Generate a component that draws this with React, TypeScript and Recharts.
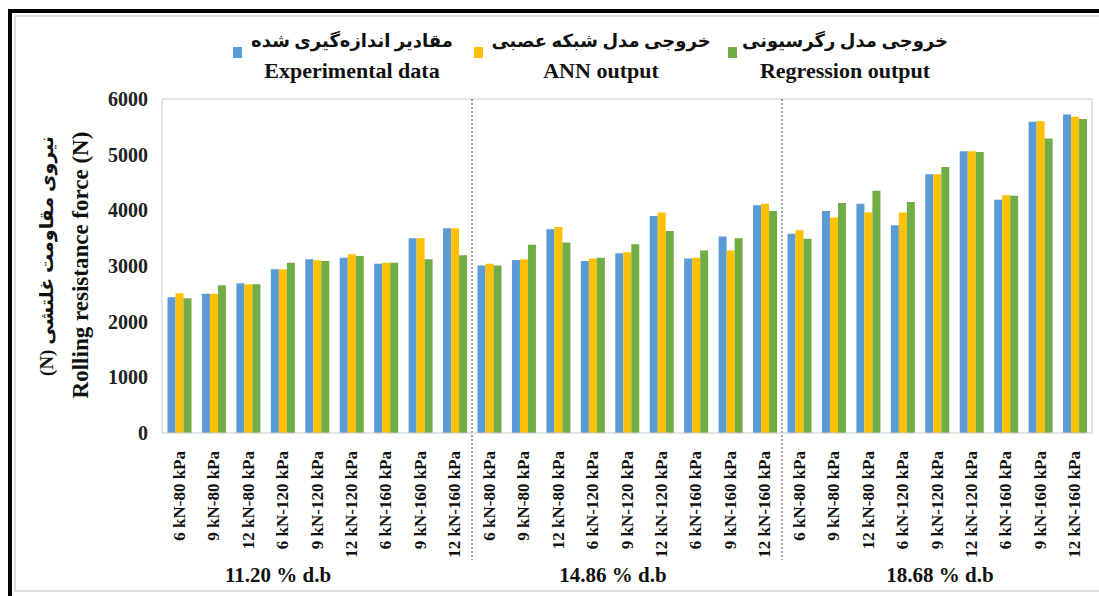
import { BarChart, Bar, XAxis, YAxis, ReferenceLine } from 'recharts'

const LOADS = [
  '6 kN-80 kPa', '9 kN-80 kPa', '12 kN-80 kPa',
  '6 kN-120 kPa', '9 kN-120 kPa', '12 kN-120 kPa',
  '6 kN-160 kPa', '9 kN-160 kPa', '12 kN-160 kPa',
]
const MOISTURE = ['11.20 % d.b', '14.86 % d.b', '18.68 % d.b']
const Y_TICKS = [0, 1000, 2000, 3000, 4000, 5000, 6000]

const experimental = [
  2440, 2500, 2690, 2940, 3120, 3150, 3040, 3500, 3680,
  3010, 3110, 3660, 3090, 3230, 3900, 3135, 3530, 4090,
  3580, 3990, 4120, 3730, 4650, 5060, 4190, 5590, 5720,
]
const annOutput = [
  2510, 2500, 2670, 2940, 3105, 3210, 3060, 3500, 3680,
  3040, 3120, 3700, 3135, 3245, 3960, 3150, 3280, 4120,
  3640, 3870, 3960, 3960, 4650, 5060, 4270, 5600, 5680,
]
const regression = [
  2420, 2655, 2670, 3060, 3090, 3180, 3060, 3120, 3195,
  3010, 3380, 3420, 3150, 3390, 3630, 3280, 3500, 3990,
  3490, 4130, 4350, 4150, 4780, 5050, 4260, 5290, 5640,
]

const SERIES = [
  { key: 'exp', fa: 'مقادیر اندازه‌گیری شده', en: 'Experimental data', color: '#5B9BD5' },
  { key: 'ann', fa: 'خروجی مدل شبکه عصبی', en: 'ANN output', color: '#FFC000' },
  { key: 'reg', fa: 'خروجی مدل رگرسیونی', en: 'Regression output', color: '#70AD47' },
]

const data = MOISTURE.flatMap((_, g) =>
  LOADS.map((load, i) => {
    const n = g * 9 + i
    return { id: `g${g}-${i}`, load, exp: experimental[n], ann: annOutput[n], reg: regression[n] }
  })
)

const labelOf = (id: string) => data.find((d) => d.id === id)?.load ?? ''

const FONT = "'Liberation Serif', 'DejaVu Sans', serif"

function XTick({ x, y, payload }: any) {
  return (
    <text
      x={x}
      y={y + 10}
      transform={`rotate(-90, ${x}, ${y + 10})`}
      textAnchor="end"
      dominantBaseline="central"
      fontFamily={FONT}
      fontWeight="bold"
      fontSize={17}
      fill="#111"
    >
      {labelOf(payload.value)}
    </text>
  )
}

function Divider(props: any) {
  const top = Math.min(props.y1, props.y2)
  const bottom = Math.max(props.y1, props.y2)
  return (
    <line x1={props.x1} x2={props.x2} y1={top} y2={bottom + 127}
      stroke="#444" strokeWidth={1} strokeDasharray="2 2" />
  )
}

const legendX = [352, 601, 845]
const squareX = [233, 474, 728]
const groupX = [278, 613, 940]

export default function App() {
  return (
    <div style={{ position: 'absolute', left: 0, top: 0, width: 1099, height: 596, background: '#fff', overflow: 'hidden' }}>
      {/* frame */}
      <div style={{ position: 'absolute', left: 8, top: 9, width: 4, height: 600, background: '#000' }} />
      <div style={{ position: 'absolute', left: 8, top: 9, width: 1100, height: 4, background: '#000' }} />
      <div style={{ position: 'absolute', left: 14, top: 15, width: 1100, height: 577, border: '2px solid #ddd', boxSizing: 'border-box' }} />

      <BarChart
        width={1099}
        height={596}
        data={data}
        margin={{ top: 99, right: 7, bottom: 43, left: 102 }}
        barCategoryGap="16%"
        barGap={0}
        style={{ position: 'absolute', left: 0, top: 0 }}
      >
        <XAxis
          dataKey="id"
          interval={0}
          height={120}
          tickLine={false}
          tick={<XTick />}
          axisLine={{ stroke: '#c8c8c8' }}
        />
        <YAxis
          domain={[0, 6000]}
          ticks={Y_TICKS}
          width={60}
          tickLine={false}
          tickSize={0}
          tickMargin={14}
          axisLine={{ stroke: '#c8c8c8' }}
          tick={{ fontFamily: FONT, fontWeight: 'bold', fontSize: 20, fill: '#222' }}
        />
        <ReferenceLine y={6000} stroke="#c8c8c8" />
        <ReferenceLine x="g2-8" position="end" stroke="#c8c8c8" />
        <ReferenceLine x="g0-8" position="end" shape={<Divider />} />
        <ReferenceLine x="g1-8" position="end" shape={<Divider />} />
        {SERIES.map((s) => (
          <Bar key={s.key} dataKey={s.key} name={s.en} fill={s.color} isAnimationActive={false} />
        ))}
      </BarChart>

      {/* legend */}
      {SERIES.map((s, i) => (
        <div key={s.key}>
          <div style={{ position: 'absolute', left: squareX[i], top: 47, width: 9, height: 11, background: s.color }} />
          <div style={{
            position: 'absolute', left: legendX[i], top: 27, transform: 'translateX(-50%)',
            textAlign: 'center', fontFamily: FONT, fontWeight: 'bold', color: '#111', whiteSpace: 'nowrap',
          }}>
            <div dir="rtl" style={{ fontSize: 18, lineHeight: '29px' }}>{s.fa}</div>
            <div style={{ fontSize: 22, lineHeight: '29px' }}>{s.en}</div>
          </div>
        </div>
      ))}

      {/* y-axis title */}
      <div dir="rtl" style={{
        position: 'absolute', left: 46, top: 256, transform: 'translate(-50%, -50%) rotate(-90deg)',
        fontFamily: FONT, fontWeight: 'bold', fontSize: 19, whiteSpace: 'nowrap', color: '#111',
      }}>
        نیروی مقاومت غلتشی (N)
      </div>
      <div style={{
        position: 'absolute', left: 81, top: 265, transform: 'translate(-50%, -50%) rotate(-90deg)',
        fontFamily: FONT, fontWeight: 'bold', fontSize: 23, whiteSpace: 'nowrap', color: '#111',
      }}>
        Rolling resistance force (N)
      </div>

      {/* moisture group labels */}
      {MOISTURE.map((m, i) => (
        <div key={m} style={{
          position: 'absolute', left: groupX[i], top: 575, transform: 'translate(-50%, -50%)',
          fontFamily: FONT, fontWeight: 'bold', fontSize: 21, whiteSpace: 'nowrap', color: '#111',
        }}>
          {m}
        </div>
      ))}
    </div>
  )
}
